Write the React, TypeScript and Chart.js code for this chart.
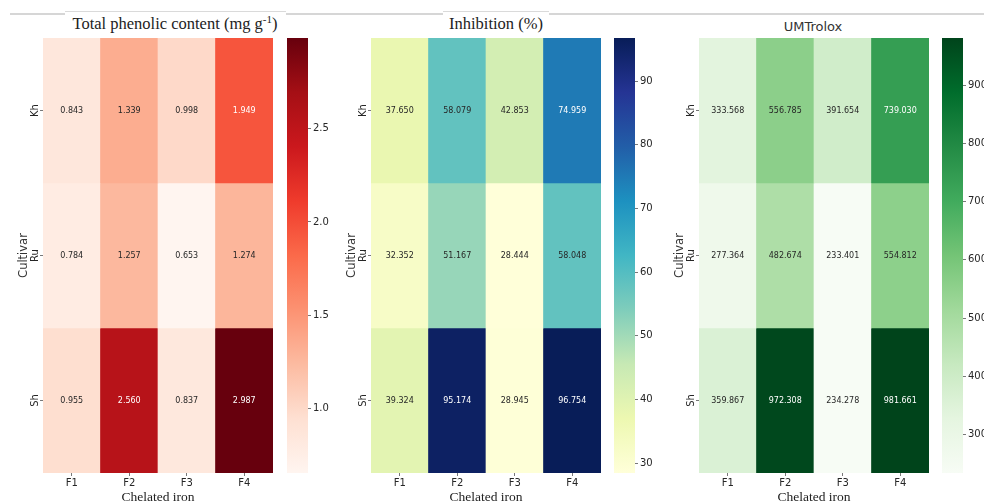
import React, { useEffect, useRef } from 'react';
import { Chart, registerables } from 'chart.js';

Chart.register(...registerables);

// ---------- data ----------
const CULTIVARS = ['Kh', 'Ru', 'Sh'];
const TREATMENTS = ['F1', 'F2', 'F3', 'F4'];

const TPC_KH = [0.843, 1.339, 0.998, 1.949];
const TPC_RU = [0.784, 1.257, 0.653, 1.274];
const TPC_SH = [0.955, 2.56, 0.837, 2.987];

const INH_KH = [37.65, 58.079, 42.853, 74.959];
const INH_RU = [32.352, 51.167, 28.444, 58.048];
const INH_SH = [39.324, 95.174, 28.945, 96.754];

const UMT_KH = [333.568, 556.785, 391.654, 739.03];
const UMT_RU = [277.364, 482.674, 233.401, 554.812];
const UMT_SH = [359.867, 972.308, 234.278, 981.661];

const TPC_TICKS = [1.0, 1.5, 2.0, 2.5];
const INH_TICKS = [30, 40, 50, 60, 70, 80, 90];
const UMT_TICKS = [300, 400, 500, 600, 700, 800, 900];

const REDS = ['#fff5f0', '#fee0d2', '#fcbba1', '#fc9272', '#fb6a4a', '#ef3b2c', '#cb181d', '#a50f15', '#67000d'];
const YLGNBU = ['#ffffd9', '#edf8b1', '#c7e9b4', '#7fcdbb', '#41b6c4', '#1d91c0', '#225ea8', '#253494', '#081d58'];
const GREENS = ['#f7fcf5', '#e5f5e0', '#c7e9c0', '#a1d99b', '#74c476', '#41ab5d', '#238b45', '#006d2c', '#00441b'];

// ---------- helpers ----------
function hexToRgb(h: string) {
  const n = parseInt(h.slice(1), 16);
  return [(n >> 16) & 255, (n >> 8) & 255, n & 255];
}
function cmapRgb(stops: string[], t: number) {
  const tt = Math.max(0, Math.min(1, t));
  const pos = tt * (stops.length - 1);
  const i = Math.min(stops.length - 2, Math.floor(pos));
  const f = pos - i;
  const a = hexToRgb(stops[i]);
  const b = hexToRgb(stops[i + 1]);
  return [0, 1, 2].map((k) => Math.round(a[k] + (b[k] - a[k]) * f));
}
function rgbStr(c: number[]) {
  return `rgb(${c[0]},${c[1]},${c[2]})`;
}
function luminance(c: number[]) {
  const l = c.map((v) => {
    const s = v / 255;
    return s <= 0.03928 ? s / 12.92 : Math.pow((s + 0.055) / 1.055, 2.4);
  });
  return 0.2126 * l[0] + 0.7152 * l[1] + 0.0722 * l[2];
}

const TEXT = '#262626';
const TICK_FONT = { family: 'DejaVu Sans', size: 10 };

// ---------- heatmap ----------
function Heatmap({ rows, stops, left, decimals }: { rows: number[][]; stops: string[]; left: number; decimals: number }) {
  const ref = useRef<HTMLCanvasElement>(null);
  useEffect(() => {
    const all = rows.flat();
    const vmin = Math.min(...all);
    const vmax = Math.max(...all);
    const rgbOf = (v: number) => cmapRgb(stops, (v - vmin) / (vmax - vmin));
    const datasets = rows.map((r, ri) => ({
      label: CULTIVARS[ri],
      data: r.map(() => 1),
      backgroundColor: r.map((v) => rgbStr(rgbOf(v))),
      borderWidth: 0,
      barPercentage: 1,
      categoryPercentage: 1,
      stack: 's',
    }));
    const annot = {
      id: 'annot',
      afterDatasetsDraw(chart: any) {
        const ctx = chart.ctx;
        ctx.save();
        ctx.font = '8px "DejaVu Sans"';
        ctx.textAlign = 'center';
        ctx.textBaseline = 'middle';
        rows.forEach((r, ri) => {
          const meta = chart.getDatasetMeta(ri);
          meta.data.forEach((el: any, ci: number) => {
            const v = r[ci];
            ctx.fillStyle = luminance(rgbOf(v)) > 0.408 ? TEXT : '#ffffff';
            ctx.fillText(v.toFixed(decimals), el.x, (el.y + el.base) / 2);
          });
        });
        ctx.restore();
      },
      afterDraw(chart: any) {
        const ctx = chart.ctx;
        const area = chart.chartArea;
        const ys = chart.scales.y;
        ctx.save();
        ctx.fillStyle = TEXT;
        ctx.textAlign = 'center';
        ctx.textBaseline = 'alphabetic';
        ctx.font = '10px "DejaVu Sans"';
        CULTIVARS.forEach((c, i) => {
          ctx.save();
          ctx.translate(area.left - 5, ys.getPixelForValue(i + 0.5));
          ctx.rotate(-Math.PI / 2);
          ctx.fillText(c, 0, 0);
          ctx.restore();
        });
        ctx.font = '11.5px "DejaVu Sans"';
        ctx.fillStyle = '#333';
        ctx.save();
        ctx.translate(area.left - 16, (area.top + area.bottom) / 2);
        ctx.rotate(-Math.PI / 2);
        ctx.fillText('Cultivar', 0, 0);
        ctx.restore();
        ctx.font = '13.5px "Liberation Serif"';
        ctx.fillStyle = '#222';
        ctx.textBaseline = 'middle';
        ctx.fillText('Chelated iron', (area.left + area.right) / 2, 497);
        ctx.restore();
      },
    };
    const gridOpts = { offset: false, drawOnChartArea: false, drawTicks: true, tickLength: 3, color: '#555', lineWidth: 0.8 };
    const chart = new Chart(ref.current as HTMLCanvasElement, {
      type: 'bar',
      data: { labels: TREATMENTS, datasets: datasets as any },
      options: {
        responsive: false,
        animation: false,
        layout: { padding: { left: 0, right: 4, top: 38, bottom: 0 } },
        plugins: { legend: { display: false }, tooltip: { enabled: false }, title: { display: false } },
        scales: {
          x: {
            stacked: true,
            offset: true,
            grid: gridOpts,
            border: { display: false },
            ticks: { color: TEXT, font: TICK_FONT, padding: 1, maxRotation: 0, minRotation: 0 },
            afterFit: (s: any) => {
              s.height = 31;
            },
          },
          y: {
            stacked: true,
            reverse: true,
            min: 0,
            max: 3,
            grid: gridOpts,
            border: { display: false },
            ticks: { display: false },
            afterBuildTicks: (s: any) => {
              s.ticks = [0.5, 1.5, 2.5].map((v) => ({ value: v }));
            },
            afterFit: (s: any) => {
              s.width = 43;
            },
          },
        } as any,
      },
      plugins: [annot],
    });
    return () => chart.destroy();
  }, []);
  return <canvas ref={ref} width={277} height={504} style={{ position: 'absolute', left: left - 43, top: 0 }} />;
}

// ---------- colorbar ----------
function ColorBar({ rows, stops, ticks, decimals, left }: { rows: number[][]; stops: string[]; ticks: number[]; decimals: number; left: number }) {
  const ref = useRef<HTMLCanvasElement>(null);
  useEffect(() => {
    const all = rows.flat();
    const vmin = Math.min(...all);
    const vmax = Math.max(...all);
    const chart = new Chart(ref.current as HTMLCanvasElement, {
      type: 'bar',
      data: {
        labels: [''],
        datasets: [
          {
            data: [[vmin, vmax]] as any,
            backgroundColor: (c: any) => {
              const ch = c.chart;
              const ys = ch.scales && ch.scales.y;
              if (!ys || !ch.chartArea) return stops[4];
              const g = ch.ctx.createLinearGradient(0, ys.getPixelForValue(vmin), 0, ys.getPixelForValue(vmax));
              stops.forEach((s, i) => g.addColorStop(i / (stops.length - 1), s));
              return g;
            },
            borderWidth: 0,
            barPercentage: 1,
            categoryPercentage: 1,
          },
        ],
      },
      options: {
        responsive: false,
        animation: false,
        layout: { padding: { left: 0, right: 0, top: 38, bottom: 31 } },
        plugins: { legend: { display: false }, tooltip: { enabled: false } },
        scales: {
          x: { display: false },
          y: {
            position: 'right',
            min: vmin,
            max: vmax,
            afterBuildTicks: (s: any) => {
              s.ticks = ticks.map((v) => ({ value: v }));
            },
            ticks: {
              callback: (v: any) => Number(v).toFixed(decimals),
              color: TEXT,
              font: TICK_FONT,
              padding: 2,
            },
            grid: { drawOnChartArea: false, drawTicks: true, tickLength: 3, color: '#555', lineWidth: 0.8 },
            border: { display: false },
            afterFit: (s: any) => {
              s.width = 50;
            },
          },
        } as any,
      },
    });
    return () => chart.destroy();
  }, []);
  return <canvas ref={ref} width={71} height={504} style={{ position: 'absolute', left, top: 0 }} />;
}

// ---------- app ----------
const serifTitle: React.CSSProperties = {
  position: 'absolute',
  top: 14,
  width: 320,
  textAlign: 'center',
  fontFamily: '"Liberation Serif", serif',
  fontSize: 16.5,
  lineHeight: '20px',
  color: '#222',
  whiteSpace: 'nowrap',
};

export default function App() {
  return (
    <div style={{ position: 'fixed', left: 0, top: 0, width: 984, height: 504, overflow: 'hidden', background: '#fff' }}>
      <div style={{ position: 'absolute', left: 10, top: 13, width: 974, height: 2, background: '#d6d6d6' }} />
      <div style={{ position: 'absolute', left: 65, top: 11, width: 221, height: 24, background: '#fff', borderTop: '1px solid #dadada' }} />
      <div style={{ position: 'absolute', left: 443, top: 11, width: 106, height: 24, background: '#fff', borderTop: '1px solid #dadada' }} />
      <div style={{ ...serifTitle, left: 175 - 160 }}>
        Total phenolic content (mg g<span style={{ fontSize: 11, position: 'relative', top: -6 }}>-1</span>)
      </div>
      <div style={{ ...serifTitle, left: 496 - 160 }}>Inhibition (%)</div>
      <div
        style={{
          position: 'absolute',
          top: 19,
          left: 813 - 100,
          width: 200,
          textAlign: 'center',
          fontFamily: '"DejaVu Sans", sans-serif',
          fontSize: 13,
          lineHeight: '16px',
          color: '#333',
        }}
      >
        UMTrolox
      </div>

      <Heatmap rows={[TPC_KH, TPC_RU, TPC_SH]} stops={REDS} left={43} decimals={3} />
      <ColorBar rows={[TPC_KH, TPC_RU, TPC_SH]} stops={REDS} ticks={TPC_TICKS} decimals={1} left={287} />

      <Heatmap rows={[INH_KH, INH_RU, INH_SH]} stops={YLGNBU} left={371} decimals={3} />
      <ColorBar rows={[INH_KH, INH_RU, INH_SH]} stops={YLGNBU} ticks={INH_TICKS} decimals={0} left={614} />

      <Heatmap rows={[UMT_KH, UMT_RU, UMT_SH]} stops={GREENS} left={699} decimals={3} />
      <ColorBar rows={[UMT_KH, UMT_RU, UMT_SH]} stops={GREENS} ticks={UMT_TICKS} decimals={0} left={942} />
    </div>
  );
}
